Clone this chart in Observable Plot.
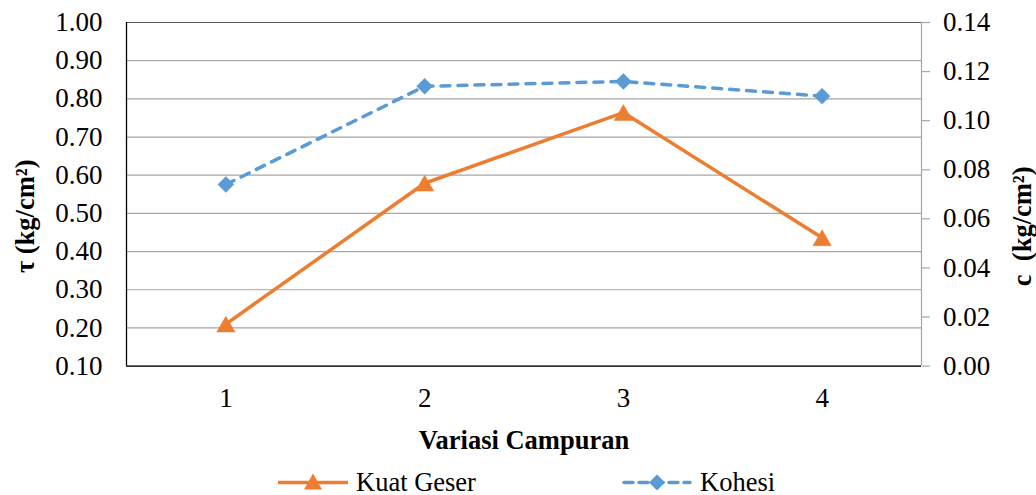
<!DOCTYPE html>
<html><head><meta charset="utf-8">
<script src="https://cdn.jsdelivr.net/npm/d3@7"></script>
<script src="https://cdn.jsdelivr.net/npm/@observablehq/plot@0.6"></script>
</head>
<body style="margin:0;background:#fff;font-family:'Liberation Serif'">
<div id="chart" style="width:1036px;height:468px;"></div>
<div id="legend" style="position:relative;width:1036px;height:27px;font-size:26.5px;color:#000;font-family:'Liberation Serif'"></div>
<script>
const categories = [1, 2, 3, 4];
const kuatGeser = [0.21, 0.579, 0.764, 0.436];
const kohesi = [0.074, 0.114, 0.116, 0.110];
const leftTicks = [0.10, 0.20, 0.30, 0.40, 0.50, 0.60, 0.70, 0.80, 0.90, 1.00];
const rightTicks = [0.00, 0.02, 0.04, 0.06, 0.08, 0.10, 0.12, 0.14];
const seriesNames = ["Kuat Geser", "Kohesi"];
const colors = ["#ED7D31", "#5B9BD5"];
const leftDomain = [0.10, 1.00];
const rightDomain = [0.00, 0.14];

const toLeft = c => leftDomain[0] + (c - rightDomain[0]) / (rightDomain[1] - rightDomain[0]) * (leftDomain[1] - leftDomain[0]);
const fromLeft = v => rightDomain[0] + (v - leftDomain[0]) / (leftDomain[1] - leftDomain[0]) * (rightDomain[1] - rightDomain[0]);

const data = categories.map((x, i) => ({x, tau: kuatGeser[i], c: kohesi[i], cl: toLeft(kohesi[i])}));
const font = "Liberation Serif";
const grid = "#a6a6a6";

const chart = Plot.plot({
  width: 1036, height: 468,
  marginLeft: 126, marginRight: 115, marginTop: 22, marginBottom: 102.4,
  x: {domain: [0.5, 4.5]},
  y: {domain: leftDomain},
  style: {fontFamily: font, fontSize: "27px", background: "white", color: "black"},
  marks: [
    Plot.gridY(leftTicks, {stroke: grid, strokeOpacity: 1, strokeWidth: 1.2}),
    Plot.ruleX([4.5], {stroke: grid, strokeWidth: 1.2}),
    Plot.ruleY([1.0], {stroke: "#595959", strokeWidth: 1.2}),
    Plot.ruleX([0.5], {stroke: "#000", strokeWidth: 1.3}),
    Plot.ruleY([0.1], {stroke: "#000", strokeWidth: 1.3}),
    Plot.axisY(leftTicks, {anchor: "left", tickSize: 0, tickPadding: 24, tickFormat: d => d.toFixed(2), label: null, fontSize: 27, fill: "black"}),
    Plot.axisY(rightTicks.map(toLeft), {anchor: "right", tickSize: 8, tickPadding: 13.5, stroke: grid, strokeWidth: 1.2, fill: "black", tickFormat: v => fromLeft(v).toFixed(2), label: null, fontSize: 27}),
    Plot.axisX(categories, {anchor: "bottom", tickSize: 0, tickPadding: 21.5, tickFormat: d => String(d), label: null, fontSize: 27, fill: "black"}),
    Plot.line(data, {x: "x", y: "tau", stroke: colors[0], strokeWidth: 3.5, strokeLinejoin: "round"}),
    Plot.line(data, {x: "x", y: "cl", stroke: colors[1], strokeWidth: 3.5, strokeDasharray: "9,8", strokeLinecap: "round"}),
    Plot.dot(data, {x: "x", y: "tau", symbol: "triangle", r: 6.8, fill: colors[0], stroke: colors[0], strokeWidth: 0.5, dy: 2.6}),
    Plot.dot(data, {x: "x", y: "cl", symbol: "diamond2", r: 7.2, fill: colors[1], stroke: colors[1], strokeWidth: 0.5}),
    Plot.text(["τ (kg/cm²)"], {text: d => d, frameAnchor: "left", rotate: -90, dx: -101, dy: 22, fontWeight: "bold", fontSize: 26.5, fill: "black", textAnchor: "middle", lineAnchor: "middle"}),
    Plot.text(["c  (kg/cm²)"], {text: d => d, frameAnchor: "right", rotate: -90, dx: 101, dy: 32, fontWeight: "bold", fontSize: 26.5, fill: "black", textAnchor: "middle", lineAnchor: "middle"}),
    Plot.text(["Variasi Campuran"], {text: d => d, frameAnchor: "bottom", dy: 74.4, fontWeight: "bold", fontSize: 26.5, fill: "black", textAnchor: "middle", lineAnchor: "middle"})
  ]
});
document.getElementById("chart").appendChild(chart);

// Legend
const legend = document.getElementById("legend");
const lefts = [278, 622];
seriesNames.forEach((name, i) => {
  const item = document.createElement("div");
  item.setAttribute("style", `position:absolute;top:1px;left:${lefts[i]}px;height:27px;display:flex;align-items:center;white-space:nowrap;font-family:'Liberation Serif';font-size:26.5px`);
  const w = 70, cy = 13.5;
  const sym = i === 0
    ? `<path d="M${w/2},${cy-9} L${w/2+9},${cy+7} L${w/2-9},${cy+7} Z" fill="${colors[0]}"/>`
    : `<path d="M${w/2},${cy-8} L${w/2+8},${cy} L${w/2},${cy+8} L${w/2-8},${cy} Z" fill="${colors[1]}"/>`;
  const dash = i === 0 ? "" : 'stroke-dasharray="9,6" stroke-linecap="round"';
  item.innerHTML = `<svg width="${w}" height="27" style="display:block"><line x1="${i===0?0:2}" x2="${i===0?w:w-2}" y1="${cy}" y2="${cy}" stroke="${colors[i]}" stroke-width="3.5" ${dash}/>${sym}</svg><span style="margin-left:8px;font-family:'Liberation Serif'">${name}</span>`;
  legend.appendChild(item);
});
</script>
</body></html>
